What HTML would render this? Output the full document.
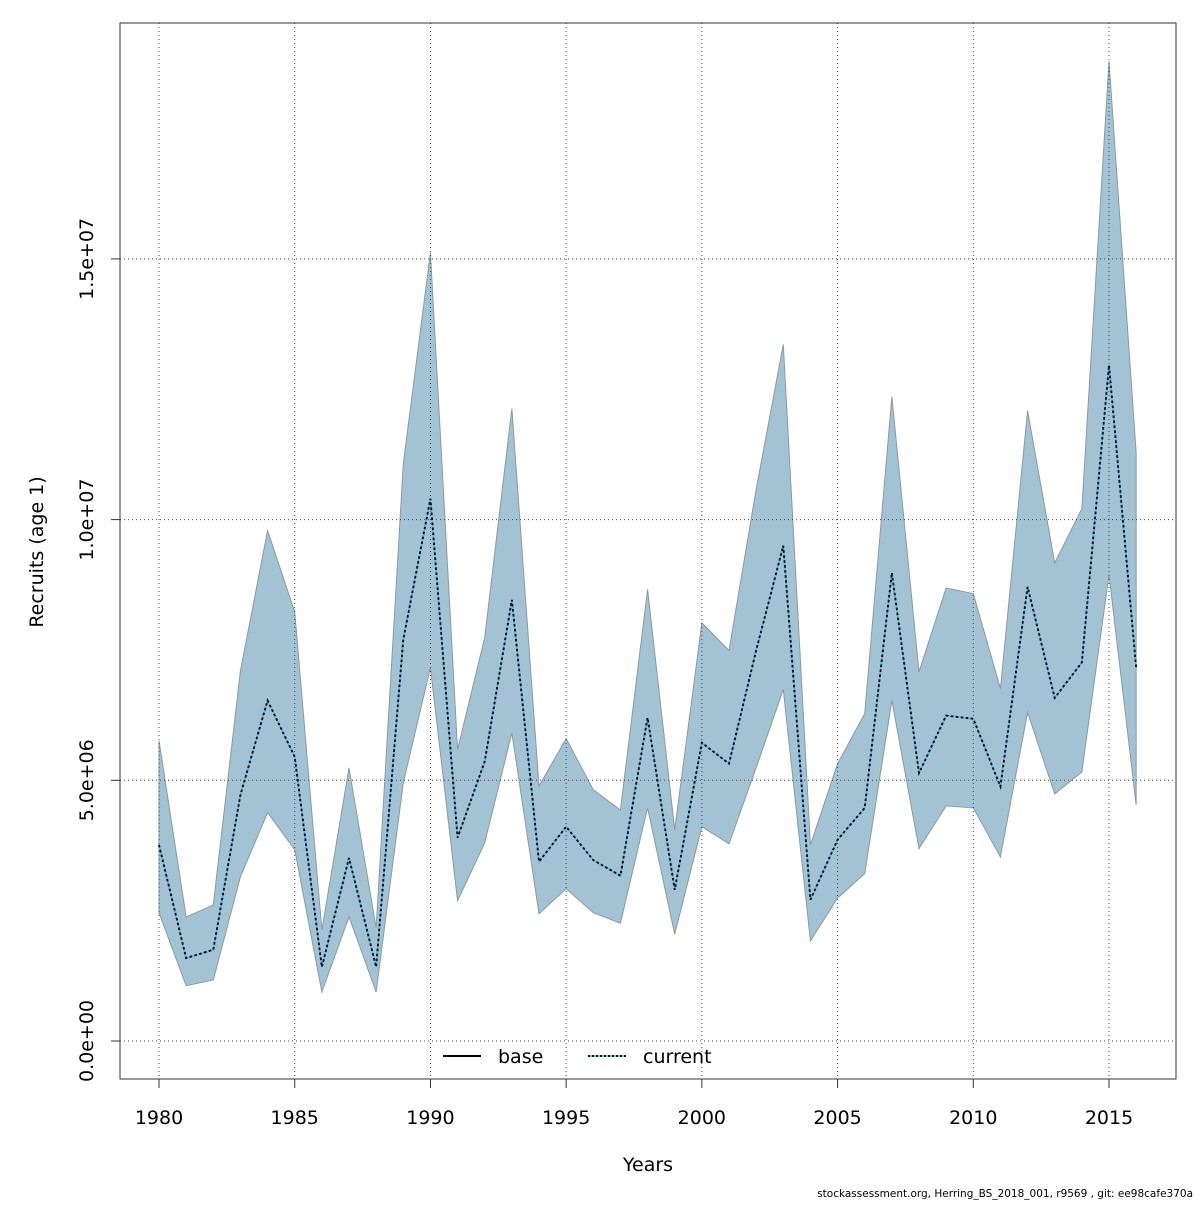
<!DOCTYPE html>
<html><head><meta charset="utf-8"><style>
html,body{margin:0;padding:0;background:#fff;}
svg text{font-family:"DejaVu Sans","Liberation Sans",sans-serif;}
</style></head><body>
<svg id="chart" width="1200" height="1200" viewBox="0 0 1200 1200">
<rect width="1200" height="1200" fill="#fff"/>
<g id="band"></g><g id="grid"></g><g id="lines"></g><g id="axes"></g>
</svg>
<script>
const years=[1980,1981,1982,1983,1984,1985,1986,1987,1988,1989,1990,1991,1992,1993,1994,1995,1996,1997,1998,1999,2000,2001,2002,2003,2004,2005,2006,2007,2008,2009,2010,2011,2012,2013,2014,2015,2016];
const recruits=[3.76,1.59,1.75,4.72,6.53,5.45,1.42,3.51,1.42,7.70,10.40,3.90,5.36,8.46,3.44,4.11,3.47,3.17,6.20,2.90,5.72,5.32,7.49,9.50,2.71,3.86,4.47,8.98,5.14,6.24,6.18,4.88,8.71,6.58,7.26,12.96,7.16];
const upper=[5.76,2.38,2.61,7.10,9.79,8.23,2.13,5.24,2.17,11.07,15.12,5.59,7.74,12.13,4.89,5.80,4.82,4.43,8.66,4.05,8.02,7.49,10.58,13.36,3.76,5.32,6.28,12.36,7.08,8.69,8.58,6.76,12.09,9.17,10.21,18.79,11.29];
const lower=[2.46,1.06,1.17,3.15,4.38,3.67,0.94,2.38,0.94,4.95,7.16,2.69,3.80,5.91,2.44,2.92,2.46,2.26,4.47,2.05,4.11,3.78,5.24,6.74,1.92,2.74,3.21,6.53,3.69,4.51,4.47,3.53,6.30,4.74,5.16,8.94,4.53];
const xTicks=[1980,1985,1990,1995,2000,2005,2010,2015];
const yTicks=[0,5,10,15];
const yTickLabels=["0.0e+00","5.0e+06","1.0e+07","1.5e+07"];

const NS="http://www.w3.org/2000/svg";
const L=120,R=1176,T=23,B=1079;
const xs=y=>159+(y-1980)*(950/35);
const ys=v=>1041-v*(260.7/5);
function mk(tag,attrs,parent){const e=document.createElementNS(NS,tag);for(const k in attrs)e.setAttribute(k,attrs[k]);parent.appendChild(e);return e;}
const band=document.getElementById('band'),grid=document.getElementById('grid'),lines=document.getElementById('lines'),axes=document.getElementById('axes');

let pts=years.map((y,i)=>xs(y)+','+ys(upper[i]));
for(let i=years.length-1;i>=0;i--)pts.push(xs(years[i])+','+ys(lower[i]));
const poly=mk('polygon',{points:pts.join(' '),fill:'#a3c3d4',stroke:'#8a9aa4','stroke-width':1},band);



xTicks.forEach(t=>{const l=mk('line',{x1:xs(t),x2:xs(t),y1:T,y2:B,stroke:'#444','stroke-width':1,'stroke-dasharray':'1,3'},grid);
});
yTicks.forEach(t=>{const l=mk('line',{x1:L,x2:R,y1:ys(t),y2:ys(t),stroke:'#444','stroke-width':1,'stroke-dasharray':'1,3'},grid);
});

const lp=years.map((y,i)=>xs(y)+','+ys(recruits[i])).join(' ');
const base=mk('polyline',{points:lp,fill:'none',stroke:'#5fb8e8','stroke-width':1.8},lines);

const cur=mk('polyline',{points:lp,fill:'none',stroke:'#000','stroke-width':1.8,'stroke-dasharray':'2.5,2.5'},lines);


const frame=mk('rect',{x:L,y:T,width:R-L,height:B-T,fill:'none',stroke:'#333','stroke-width':1},axes);

xTicks.forEach(t=>{mk('line',{x1:xs(t),x2:xs(t),y1:B,y2:B+9,stroke:'#333'},axes);
const tx=mk('text',{x:xs(t),y:1124,'text-anchor':'middle','font-size':19},axes);tx.textContent=t;
});
yTicks.forEach((t,i)=>{mk('line',{x1:L,x2:L-9,y1:ys(t),y2:ys(t),stroke:'#333'},axes);
const tx=mk('text',{x:0,y:0,'text-anchor':'middle','font-size':19,transform:`translate(93,${ys(t)}) rotate(-90)`},axes);tx.textContent=yTickLabels[i];
});
</script>
<svg style="position:absolute;left:0;top:0" width="1200" height="1200">
<text x="648" y="1171" text-anchor="middle" font-size="19">Years</text>
<text transform="translate(43,552) rotate(-90)" text-anchor="middle" font-size="19">Recruits (age 1)</text>
<g>
<line x1="443" y1="1056" x2="481" y2="1056" stroke="#000" stroke-width="2"/>
<text x="498" y="1063" font-size="19">base</text>
<line x1="588" y1="1056" x2="626" y2="1056" stroke="#5fb8e8" stroke-width="1.8"/>
<line x1="588" y1="1056" x2="626" y2="1056" stroke="#000" stroke-width="1.8" stroke-dasharray="2,2"/>
<text x="643" y="1063" font-size="19">current</text>
</g>
<text x="1193" y="1197" text-anchor="end" font-size="10.5">stockassessment.org, Herring_BS_2018_001, r9569 , git: ee98cafe370a</text>
</svg>
</body></html>
